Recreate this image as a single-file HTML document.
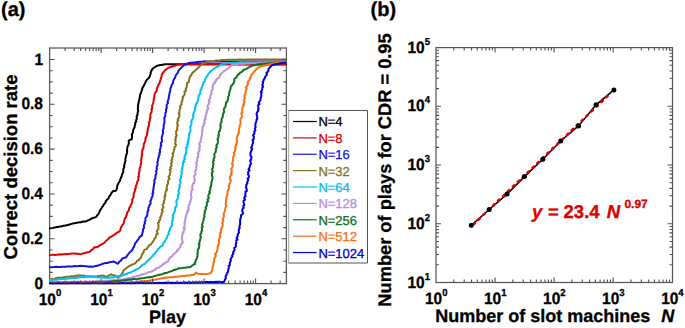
<!DOCTYPE html>
<html><head><meta charset="utf-8"><style>
html,body{margin:0;padding:0;background:#fff;width:685px;height:328px;overflow:hidden;}
svg{display:block;}
</style></head><body>
<svg width="685" height="328" viewBox="0 0 685 328" text-rendering="geometricPrecision">
<rect width="685" height="328" fill="#fff"/>
<rect x="49.6" y="48.0" width="236.79999999999998" height="235.60000000000002" fill="none" stroke="#585858" stroke-width="1.25"/>
<defs><clipPath id="ca"><rect x="49.0" y="48.0" width="237.39999999999998" height="236.50000000000003"/></clipPath></defs>
<g clip-path="url(#ca)" fill="none" stroke-width="2.0" stroke-linejoin="round" stroke-linecap="round">
<path d="M49.30,228.50 L50.55,228.16 L51.97,227.90 L53.24,227.74 L54.38,227.55 L55.68,227.29 L57.00,226.95 L58.43,226.93 L59.63,226.51 L61.11,226.49 L62.40,226.08 L63.85,225.74 L65.11,225.58 L66.17,225.28 L67.54,225.16 L68.81,224.74 L70.29,224.33 L71.58,223.89 L72.71,223.59 L74.25,223.32 L75.44,223.03 L76.85,222.72 L78.32,222.61 L79.50,222.35 L80.96,222.21 L82.39,221.81 L83.84,221.54 L85.01,221.50 L86.24,221.20 L87.56,220.56 L89.27,219.83 L90.70,219.03 L91.98,218.43 L93.47,217.78 L95.11,217.35 L96.48,216.68 L96.99,215.48 L98.13,214.39 L99.00,212.85 L99.49,211.81 L100.03,210.50 L100.89,209.12 L101.51,208.27 L102.24,206.88 L103.09,206.02 L103.58,204.68 L104.57,203.73 L105.43,202.57 L105.77,201.21 L106.52,200.26 L108.69,198.14 L108.96,196.96 L109.76,195.86 L110.76,194.54 L111.15,193.40 L112.15,192.25 L113.11,191.05 L114.35,191.03 L115.83,190.77 L116.46,189.77 L116.92,188.40 L117.05,186.82 L117.34,185.56 L118.04,183.92 L118.86,182.59 L119.67,181.16 L120.14,179.82 L120.61,178.67 L120.96,177.68 L121.78,176.05 L121.92,174.89 L122.40,173.52 L123.15,172.71 L123.27,171.19 L123.22,169.66 L123.67,168.42 L124.29,167.04 L123.91,166.13 L124.55,164.37 L124.81,162.98 L125.04,162.17 L125.55,160.69 L125.32,159.18 L125.50,158.07 L126.03,156.75 L126.10,155.15 L126.71,154.26 L126.97,152.87 L127.18,151.53 L126.95,150.11 L127.29,148.54 L127.27,147.38 L127.68,146.30 L128.46,144.87 L128.67,143.86 L128.92,142.23 L128.66,140.89 L130.00,139.99 L131.60,139.42 L132.00,137.59 L132.07,136.17 L131.84,134.49 L132.69,132.94 L133.05,131.41 L133.12,130.20 L133.71,128.83 L134.65,127.25 L134.63,126.07 L135.27,124.21 L135.22,122.74 L136.20,121.62 L136.03,120.18 L136.92,118.75 L136.68,117.36 L136.76,115.74 L137.67,114.75 L137.57,113.57 L137.75,112.21 L138.18,110.46 L137.82,109.14 L137.93,107.93 L138.06,106.47 L138.07,105.38 L138.36,103.75 L138.66,102.61 L138.88,101.21 L139.29,99.59 L139.65,97.90 L139.93,96.58 L139.94,95.49 L140.41,93.90 L141.16,92.53 L141.38,91.21 L142.04,90.04 L142.22,88.63 L142.82,87.19 L143.68,86.00 L144.17,84.87 L145.02,83.47 L145.45,82.25 L146.01,81.08 L146.80,79.99 L147.64,79.14 L148.59,78.09 L149.61,76.78 L149.87,75.75 L150.60,73.99 L150.64,72.77 L151.17,71.31 L151.74,70.15 L152.64,68.74 L153.92,67.79 L155.35,66.80 L156.74,65.94 L158.22,65.54 L159.79,65.10 L161.19,64.90 L162.47,64.64 L163.85,64.41 L165.18,64.19 L166.59,64.17 L167.95,64.20 L169.30,64.19 L170.71,64.20 L172.05,64.23 L173.47,64.23 L174.80,64.19 L176.17,64.22 L177.55,64.20 L178.92,64.27 L180.30,64.24 L181.62,64.31 L183.00,64.31 L184.28,64.27 L185.62,64.30 L186.89,64.33 L188.22,64.32 L189.49,64.32 L190.80,64.32 L192.12,64.29 L193.43,64.33 L194.72,64.28 L196.04,64.28 L197.32,64.28 L198.62,64.28 L199.94,64.29 L201.27,64.29 L202.56,64.28 L203.85,64.27 L205.15,64.27 L206.48,64.30 L207.75,64.30 L209.10,64.28 L210.40,64.30 L211.68,64.32 L212.98,64.30 L214.30,64.33 L215.59,64.32 L216.91,64.31 L218.20,64.29 L219.48,64.28 L220.78,64.31 L222.10,64.28 L223.39,64.32 L224.74,64.31 L226.01,64.28 L227.32,64.30 L228.61,64.30 L229.92,64.33 L231.27,64.30 L232.53,64.33 L233.84,64.29 L235.12,64.29 L236.45,64.30 L237.74,64.30 L239.03,64.29 L240.34,64.29 L241.64,64.27 L242.96,64.28 L244.28,64.30 L245.60,64.31 L246.90,64.32 L248.18,64.29 L249.52,64.28 L250.81,64.31 L252.07,64.32 L253.43,64.31 L254.72,64.32 L255.99,64.30 L257.32,64.32 L258.64,64.32 L259.93,64.32 L261.24,64.31 L262.52,64.27 L263.81,64.29 L265.12,64.32 L266.45,64.31 L267.75,64.31 L269.05,64.27 L270.37,64.32 L271.66,64.30 L272.97,64.27 L274.28,64.28 L275.54,64.29 L276.89,64.28 L278.19,64.33 L279.48,64.29 L280.78,64.31 L282.10,64.31 L283.40,64.27 L284.67,64.28 L286.00,64.30" stroke="#000000"/>
<path d="M49.30,255.20 L50.76,255.05 L52.09,254.87 L53.31,254.85 L54.89,254.89 L56.28,254.67 L57.61,254.64 L58.98,254.44 L60.50,254.37 L61.92,254.50 L62.99,254.26 L64.63,254.33 L65.90,254.02 L67.21,254.14 L68.67,253.92 L70.10,253.81 L71.83,253.59 L73.24,253.60 L74.74,253.56 L76.11,253.80 L77.80,253.70 L79.23,254.02 L80.98,254.13 L82.37,253.64 L83.98,253.33 L85.40,252.79 L87.53,252.22 L89.46,252.10 L90.54,250.98 L91.32,250.11 L92.80,249.28 L93.52,248.29 L94.61,247.24 L96.38,247.07 L98.28,246.69 L99.36,245.66 L100.61,244.88 L101.63,244.48 L103.02,243.68 L103.98,242.99 L105.19,241.90 L106.08,240.75 L107.10,240.02 L108.14,239.19 L108.88,238.00 L110.47,237.21 L111.43,236.48 L112.56,235.83 L114.17,234.79 L115.09,234.09 L116.13,233.41 L117.01,232.59 L118.13,232.20 L119.40,231.15 L120.33,230.34 L120.60,228.64 L121.02,227.38 L121.75,226.14 L122.29,225.00 L123.16,224.12 L123.80,222.53 L124.03,221.27 L124.50,219.84 L124.75,218.48 L125.98,217.08 L126.10,216.04 L126.89,214.48 L126.92,213.18 L127.52,211.97 L128.57,210.86 L129.12,209.07 L129.09,208.12 L130.37,206.65 L130.75,205.06 L131.21,204.25 L131.93,202.88 L132.41,201.18 L132.03,199.79 L132.74,198.78 L133.45,197.47 L133.56,196.16 L133.75,194.70 L133.75,193.50 L134.28,192.25 L135.00,190.55 L134.94,189.19 L135.75,188.12 L135.68,186.41 L136.41,185.38 L136.67,183.84 L137.23,182.38 L137.36,181.31 L138.31,180.09 L138.48,178.64 L138.13,177.16 L139.01,176.10 L138.66,174.34 L139.07,173.40 L139.23,171.80 L139.68,170.87 L139.52,168.98 L139.86,167.88 L140.40,166.40 L140.73,165.39 L140.70,163.71 L141.32,162.47 L141.38,161.12 L141.03,160.14 L141.29,158.96 L141.66,157.17 L141.61,156.00 L142.20,155.03 L141.92,153.38 L142.18,152.43 L142.30,150.55 L142.42,149.45 L143.38,148.46 L143.42,147.22 L143.74,145.50 L143.75,144.31 L144.80,142.27 L145.34,140.93 L145.40,139.58 L145.54,138.06 L145.94,136.94 L146.84,135.48 L147.16,134.21 L146.94,133.26 L147.66,131.70 L147.30,130.41 L147.89,129.36 L147.97,127.72 L148.84,126.21 L148.65,125.39 L149.21,123.62 L148.80,122.33 L149.83,121.15 L149.92,120.25 L149.80,118.53 L150.59,117.41 L150.21,116.13 L150.50,114.53 L150.47,113.49 L151.52,112.08 L151.79,110.37 L151.40,109.32 L152.28,108.28 L152.02,106.51 L152.30,105.33 L152.97,103.81 L153.20,102.74 L153.56,101.36 L153.72,99.70 L153.82,98.32 L154.56,96.75 L154.40,95.75 L154.80,93.95 L155.13,92.91 L155.86,91.83 L156.81,90.52 L156.81,88.68 L157.18,87.60 L158.17,86.25 L158.29,84.91 L159.10,83.74 L159.70,82.52 L160.14,80.78 L160.76,79.40 L161.02,77.97 L161.64,76.38 L161.71,74.93 L162.16,73.79 L163.28,72.49 L163.98,71.80 L164.88,70.39 L165.74,69.52 L167.27,68.51 L168.70,67.63 L170.04,67.24 L171.25,66.78 L172.56,66.37 L174.00,65.96 L175.35,65.49 L176.69,65.05 L177.98,64.62 L179.44,64.49 L180.81,64.45 L182.18,64.35 L183.57,64.26 L184.98,64.21 L186.32,64.18 L187.59,64.20 L188.95,64.19 L190.23,64.19 L191.58,64.22 L192.84,64.20 L194.17,64.23 L195.50,64.20 L196.78,64.25 L198.11,64.22 L199.42,64.27 L200.73,64.25 L202.04,64.24 L203.39,64.29 L204.67,64.24 L206.00,64.24 L207.26,64.29 L208.61,64.29 L209.92,64.30 L211.23,64.25 L212.51,64.29 L213.87,64.31 L215.14,64.30 L216.47,64.29 L217.77,64.28 L219.11,64.33 L220.39,64.30 L221.75,64.34 L223.02,64.29 L224.38,64.35 L225.66,64.29 L227.00,64.32 L228.31,64.34 L229.62,64.31 L230.93,64.32 L232.21,64.36 L233.56,64.32 L234.82,64.34 L236.16,64.34 L237.44,64.34 L238.80,64.39 L240.06,64.37 L241.42,64.34 L242.74,64.34 L244.03,64.38 L245.35,64.37 L246.64,64.39 L247.96,64.40 L249.27,64.39 L250.55,64.40 L251.90,64.38 L253.23,64.42 L254.52,64.38 L255.83,64.38 L257.12,64.41 L258.43,64.41 L259.77,64.39 L261.09,64.40 L262.41,64.45 L263.70,64.40 L265.01,64.43 L266.36,64.42 L267.66,64.48 L268.96,64.47 L270.24,64.49 L271.57,64.49 L272.91,64.44 L274.22,64.50 L275.48,64.46 L276.84,64.45 L278.16,64.46 L279.46,64.46 L280.75,64.51 L282.04,64.47 L283.38,64.48 L284.66,64.47 L286.00,64.50" stroke="#e00000"/>
<path d="M49.30,267.10 L50.61,267.21 L52.21,267.15 L53.46,267.08 L54.87,266.96 L56.47,266.87 L57.98,266.89 L59.30,266.96 L60.56,266.96 L62.04,266.72 L63.40,266.63 L64.77,266.69 L65.85,266.71 L67.18,266.47 L68.58,266.38 L69.91,266.41 L71.15,266.60 L72.43,266.46 L73.68,266.15 L74.93,266.11 L76.49,266.13 L77.80,266.20 L79.02,265.89 L80.56,265.73 L81.79,265.97 L83.30,266.10 L84.82,266.30 L86.43,266.30 L87.90,266.49 L89.17,266.75 L90.66,266.58 L92.02,266.85 L93.82,266.61 L95.06,266.11 L96.33,265.96 L98.03,265.53 L99.65,264.91 L101.38,264.37 L102.59,263.75 L104.08,263.38 L105.79,263.04 L107.19,263.01 L108.62,262.57 L110.51,262.06 L111.61,261.89 L113.20,261.56 L114.88,262.02 L116.09,262.74 L117.37,263.71 L118.82,262.70 L119.18,261.85 L120.64,260.72 L121.55,259.79 L122.14,258.72 L123.38,258.09 L124.67,257.82 L126.15,257.30 L127.07,255.73 L127.84,254.60 L128.91,253.41 L129.77,252.28 L131.50,250.85 L132.74,249.49 L132.73,248.35 L133.70,247.52 L134.24,245.85 L134.90,244.57 L134.89,243.64 L135.97,242.44 L136.76,241.54 L137.38,240.40 L138.32,239.34 L138.88,238.20 L139.75,236.90 L140.86,236.11 L141.98,235.39 L142.29,233.40 L142.51,232.65 L142.99,230.73 L142.93,229.28 L143.85,228.39 L144.11,227.16 L143.74,225.76 L144.29,224.62 L145.00,223.37 L144.51,222.05 L145.58,220.79 L145.29,218.93 L145.74,217.45 L146.87,216.58 L147.13,215.22 L147.49,213.46 L147.35,211.93 L148.35,210.60 L148.29,209.35 L148.37,207.84 L148.99,206.74 L149.45,205.20 L150.38,204.04 L150.64,202.84 L150.24,201.42 L150.99,200.38 L151.28,199.06 L151.83,197.45 L152.50,196.09 L152.83,194.86 L152.39,193.59 L153.37,192.72 L152.79,190.95 L153.49,189.74 L153.38,188.11 L153.74,186.92 L153.85,185.58 L154.08,183.64 L154.70,182.42 L154.31,181.10 L154.50,179.83 L155.35,178.45 L155.50,176.77 L155.50,175.43 L156.22,173.83 L156.44,172.42 L155.98,171.21 L156.91,170.00 L156.59,168.87 L156.66,167.17 L157.17,165.98 L157.61,164.50 L157.42,162.88 L157.44,161.84 L158.16,160.36 L158.00,158.79 L158.90,157.52 L158.59,156.07 L159.64,154.56 L159.28,153.23 L160.11,152.24 L159.76,150.42 L160.06,149.20 L160.55,147.75 L160.56,146.43 L161.42,145.47 L160.74,144.30 L160.95,142.55 L162.05,141.50 L162.01,139.91 L161.67,138.71 L161.79,137.07 L162.28,135.61 L162.49,134.81 L162.96,133.27 L163.05,131.92 L162.69,130.69 L163.12,129.46 L163.80,127.91 L163.60,126.82 L163.60,125.11 L164.07,124.25 L164.28,122.80 L164.51,121.46 L164.44,119.97 L164.35,118.76 L164.37,117.29 L165.30,116.17 L165.38,114.53 L165.41,113.34 L165.85,111.99 L166.14,111.02 L165.89,109.51 L166.74,108.04 L166.73,107.17 L166.56,105.59 L166.95,104.47 L167.98,103.01 L167.43,101.77 L168.13,100.59 L168.37,99.26 L168.95,97.89 L168.81,96.90 L168.96,95.35 L169.47,94.03 L169.55,92.80 L170.11,90.80 L170.37,89.66 L170.46,88.29 L171.19,87.11 L171.47,85.45 L171.88,84.45 L173.05,83.02 L172.94,81.89 L173.62,80.22 L173.91,79.28 L175.05,77.89 L175.27,76.54 L175.81,75.50 L176.66,74.02 L177.78,72.85 L178.23,71.26 L179.04,69.90 L180.26,68.85 L181.46,67.60 L182.58,66.37 L183.79,65.46 L184.93,64.62 L186.34,64.00 L187.71,63.46 L189.09,62.91 L190.43,62.76 L191.77,62.67 L193.00,62.54 L194.40,62.41 L195.64,62.29 L197.00,62.09 L198.25,62.04 L199.69,61.83 L201.01,61.67 L202.40,61.57 L203.79,61.37 L205.14,61.43 L206.38,61.44 L207.72,61.43 L209.03,61.44 L210.35,61.44 L211.60,61.43 L212.94,61.44 L214.23,61.46 L215.55,61.41 L216.83,61.40 L218.15,61.40 L219.45,61.41 L220.76,61.44 L222.07,61.47 L223.33,61.47 L224.67,61.46 L225.99,61.48 L227.28,61.45 L228.63,61.43 L229.91,61.47 L231.16,61.48 L232.52,61.50 L233.80,61.51 L235.12,61.47 L236.45,61.44 L237.74,61.49 L239.02,61.51 L240.32,61.49 L241.64,61.51 L242.92,61.49 L244.24,61.50 L245.58,61.49 L246.88,61.50 L248.16,61.49 L249.47,61.55 L250.78,61.54 L252.06,61.50 L253.37,61.53 L254.70,61.55 L255.95,61.54 L257.33,61.53 L258.56,61.52 L259.87,61.51 L261.24,61.55 L262.53,61.57 L263.85,61.55 L265.13,61.56 L266.44,61.56 L267.75,61.53 L269.05,61.56 L270.36,61.53 L271.62,61.53 L272.97,61.60 L274.27,61.56 L275.59,61.60 L276.87,61.56 L278.16,61.57 L279.46,61.58 L280.79,61.62 L282.05,61.60 L283.35,61.56 L284.72,61.60 L286.00,61.60" stroke="#1414e0"/>
<path d="M49.30,279.30 L50.98,279.06 L51.86,278.81 L53.63,278.90 L55.29,278.44 L56.37,278.02 L57.94,277.87 L59.06,277.55 L60.41,277.70 L61.78,277.69 L63.06,277.48 L64.38,276.88 L66.03,276.84 L67.34,276.66 L68.24,276.81 L69.92,276.70 L71.23,276.14 L72.47,276.31 L73.73,276.27 L74.96,276.14 L76.57,275.50 L77.52,275.68 L79.33,275.23 L80.38,275.42 L81.69,275.72 L83.29,275.50 L84.62,276.00 L86.06,276.28 L87.34,276.54 L88.80,276.47 L90.29,276.36 L91.55,276.53 L93.17,276.53 L94.36,276.31 L95.43,276.66 L97.22,276.36 L98.40,276.02 L100.19,275.92 L101.36,275.42 L102.65,275.54 L104.17,275.98 L105.91,276.68 L107.70,276.84 L108.08,275.86 L109.66,275.13 L111.14,274.34 L112.31,274.91 L114.69,275.56 L115.63,275.91 L117.06,277.05 L118.07,277.89 L119.06,276.45 L120.56,276.16 L120.86,274.92 L122.45,273.27 L122.79,272.45 L123.34,270.85 L123.86,270.09 L125.53,268.94 L126.00,268.28 L127.82,266.93 L128.76,266.46 L130.29,265.67 L131.24,265.18 L132.29,264.38 L133.56,264.17 L134.96,263.55 L136.10,262.41 L136.93,260.94 L138.92,260.10 L139.09,259.20 L140.96,257.69 L141.34,256.49 L141.86,254.83 L141.86,254.34 L143.53,252.52 L143.77,250.95 L144.54,249.75 L145.88,249.35 L146.97,248.85 L147.63,247.52 L148.50,246.44 L149.30,245.13 L150.76,244.60 L151.55,243.52 L152.96,241.64 L153.51,240.77 L153.82,240.12 L154.55,238.48 L155.60,237.55 L156.20,235.76 L156.47,234.27 L157.79,233.80 L156.89,231.40 L157.14,230.30 L158.30,229.45 L158.40,227.15 L158.52,226.40 L158.52,225.26 L157.84,222.98 L159.08,222.37 L159.08,220.35 L160.32,219.64 L160.12,217.86 L160.78,216.29 L161.53,214.96 L161.61,213.53 L162.46,211.98 L162.72,210.74 L161.91,210.07 L162.39,208.66 L163.54,207.19 L162.67,205.31 L162.80,204.38 L164.11,202.65 L163.73,200.94 L164.60,199.70 L164.68,198.00 L164.46,196.54 L165.50,195.65 L165.06,194.59 L165.58,192.76 L165.77,191.25 L167.09,189.93 L166.38,188.79 L166.85,187.90 L166.82,186.68 L166.99,185.29 L168.13,183.31 L168.11,182.09 L168.05,180.70 L168.43,180.12 L169.58,178.68 L168.49,176.66 L169.88,175.05 L169.86,173.92 L170.45,172.26 L170.42,171.21 L169.68,169.50 L170.94,168.71 L170.27,167.30 L171.57,165.76 L171.34,164.36 L171.03,163.68 L172.02,161.75 L171.30,160.30 L172.29,159.38 L172.01,157.74 L172.71,156.91 L173.22,155.44 L172.53,153.58 L173.52,152.59 L173.72,150.89 L174.01,149.85 L174.52,149.06 L174.54,147.00 L175.56,146.15 L176.07,144.65 L175.13,143.88 L175.52,141.80 L175.63,140.89 L175.18,139.44 L175.97,138.07 L175.58,136.91 L176.76,135.70 L176.10,134.16 L176.31,132.84 L175.95,131.58 L177.47,129.87 L177.02,128.59 L177.25,126.75 L178.09,125.64 L177.13,124.19 L177.43,123.60 L177.31,121.55 L178.49,120.33 L177.69,119.42 L178.71,118.02 L179.13,116.16 L179.61,115.34 L178.65,113.31 L179.54,112.25 L179.47,110.43 L179.89,109.01 L180.40,108.30 L180.01,106.57 L181.20,104.82 L181.66,104.21 L181.42,102.35 L182.40,101.10 L182.14,100.14 L183.03,98.20 L182.66,96.85 L183.42,96.11 L184.40,94.72 L184.91,93.32 L184.42,91.68 L186.10,90.74 L185.66,88.93 L186.57,87.49 L186.82,85.84 L187.07,84.88 L186.89,83.15 L188.58,82.39 L188.92,80.88 L189.14,79.74 L189.55,77.61 L190.00,76.68 L190.79,75.57 L191.37,75.00 L192.20,73.31 L192.82,72.35 L194.35,71.32 L194.81,70.67 L196.01,69.66 L197.31,68.72 L198.24,67.79 L199.23,66.81 L200.05,65.88 L201.02,65.01 L201.96,64.06 L203.27,63.58 L204.77,63.07 L206.06,62.55 L207.35,62.03 L208.71,61.79 L210.05,61.57 L211.31,61.32 L212.61,61.14 L213.95,60.94 L215.21,60.69 L216.65,60.47 L217.91,60.41 L219.17,60.39 L220.47,60.28 L221.75,60.10 L223.15,60.06 L224.34,59.97 L225.69,59.93 L226.95,59.84 L228.36,59.87 L229.56,59.80 L230.88,59.81 L232.21,59.80 L233.54,59.74 L234.83,59.74 L236.13,59.68 L237.43,59.68 L238.75,59.58 L240.04,59.54 L241.34,59.61 L242.63,59.65 L243.95,59.58 L245.29,59.63 L246.58,59.57 L247.88,59.58 L249.23,59.56 L250.50,59.58 L251.82,59.55 L253.18,59.61 L254.46,59.56 L255.74,59.54 L257.05,59.57 L258.41,59.51 L259.76,59.54 L261.07,59.59 L262.40,59.52 L263.65,59.60 L264.92,59.49 L266.29,59.54 L267.65,59.57 L268.92,59.59 L270.23,59.54 L271.56,59.52 L272.84,59.54 L274.15,59.58 L275.51,59.53 L276.75,59.51 L278.10,59.52 L279.44,59.56 L280.80,59.51 L282.05,59.52 L283.43,59.49 L284.69,59.54 L286.00,59.50" stroke="#86701c"/>
<path d="M49.30,280.10 L50.56,279.92 L52.38,280.05 L53.58,279.62 L55.19,279.79 L56.58,279.83 L58.04,279.46 L59.11,279.30 L60.71,279.30 L61.84,279.02 L63.37,279.08 L64.52,279.13 L65.97,278.55 L67.15,278.77 L68.40,278.59 L69.54,278.27 L71.28,278.27 L72.49,277.96 L73.85,277.99 L75.18,277.89 L76.77,277.92 L78.24,277.51 L79.46,277.25 L81.23,277.09 L82.34,276.98 L84.01,277.15 L85.53,277.04 L86.74,276.58 L88.56,276.62 L90.01,276.53 L91.18,276.64 L92.59,277.09 L94.29,276.98 L95.68,277.15 L96.99,277.36 L98.68,277.39 L100.10,277.25 L101.47,276.98 L103.27,277.52 L104.40,277.69 L106.11,277.56 L107.45,278.02 L108.85,277.86 L110.17,277.45 L111.86,277.22 L113.09,277.40 L114.67,277.05 L116.00,276.43 L117.54,276.14 L119.37,275.90 L120.73,275.56 L122.32,275.43 L123.55,274.78 L124.66,274.75 L126.14,273.94 L127.34,273.49 L128.69,272.87 L130.30,272.58 L131.22,272.33 L132.38,271.35 L134.21,270.56 L135.10,270.31 L136.62,269.18 L137.46,268.84 L138.69,268.31 L139.76,267.40 L141.24,266.02 L142.41,265.05 L143.85,264.24 L145.23,263.56 L145.97,262.42 L147.30,261.29 L148.66,260.13 L149.41,259.33 L150.28,258.40 L151.49,257.22 L152.58,255.92 L153.32,254.72 L154.02,254.25 L155.07,253.07 L155.77,251.96 L156.94,250.88 L157.79,249.52 L158.71,248.60 L159.44,247.89 L160.52,246.59 L162.06,245.80 L162.95,244.80 L163.12,243.30 L163.86,242.55 L165.19,241.06 L165.50,240.10 L166.43,238.54 L167.20,237.41 L167.55,236.06 L167.55,235.45 L168.82,234.00 L168.56,232.16 L169.25,231.02 L169.95,229.89 L169.98,228.36 L171.13,226.76 L171.76,225.64 L171.99,223.87 L171.87,222.97 L172.01,221.04 L172.91,220.45 L172.45,218.48 L173.45,217.70 L172.64,216.06 L173.00,215.26 L173.50,213.97 L174.55,211.83 L174.85,210.70 L175.28,209.69 L175.05,207.63 L176.29,206.53 L176.53,205.47 L176.54,204.29 L176.66,202.64 L176.17,201.55 L176.93,200.08 L177.85,198.41 L177.90,197.03 L178.08,196.42 L177.76,194.88 L178.96,193.65 L178.67,191.99 L178.29,190.78 L179.02,189.33 L179.14,187.95 L179.87,187.08 L179.41,185.29 L179.97,184.10 L180.73,182.63 L180.04,181.75 L180.02,180.06 L180.50,178.97 L181.01,177.59 L180.73,176.18 L181.53,174.66 L181.98,173.68 L181.33,171.85 L181.89,170.45 L181.71,169.20 L182.12,168.26 L182.68,166.39 L182.74,165.40 L183.02,163.80 L182.94,162.36 L184.44,161.73 L183.56,160.40 L185.02,158.96 L184.19,157.59 L184.91,156.02 L185.36,154.55 L186.14,153.69 L186.04,152.52 L186.36,150.44 L186.11,148.90 L186.10,148.04 L187.46,146.16 L186.88,145.03 L188.00,143.97 L187.35,142.52 L188.47,141.16 L188.05,139.32 L188.96,138.12 L188.59,137.01 L188.84,135.95 L188.91,133.90 L189.59,133.12 L190.21,131.75 L190.61,130.52 L190.35,128.67 L190.19,127.04 L191.04,125.40 L191.46,124.03 L191.43,123.33 L191.25,121.21 L191.99,120.08 L192.65,118.63 L193.09,118.14 L193.30,116.48 L192.93,115.42 L193.52,113.93 L193.72,112.45 L194.55,111.29 L195.27,109.20 L194.92,107.95 L195.68,106.37 L195.62,104.71 L196.18,103.63 L197.39,102.61 L197.66,101.25 L198.18,99.52 L198.37,97.62 L198.73,96.76 L198.79,95.39 L200.09,93.98 L200.24,92.50 L200.40,91.66 L200.53,89.73 L201.77,88.70 L201.50,87.64 L202.29,86.32 L202.80,85.03 L203.43,83.66 L203.36,82.24 L204.96,81.16 L204.80,80.03 L205.68,78.03 L206.71,76.78 L207.39,75.64 L208.04,74.53 L208.85,73.37 L210.25,71.93 L210.99,70.80 L211.95,70.24 L213.16,69.29 L214.35,68.44 L215.55,67.79 L216.52,67.05 L217.95,66.22 L219.44,65.56 L220.78,64.77 L222.14,64.04 L223.44,63.86 L224.78,63.66 L226.18,63.40 L227.63,63.19 L229.03,63.11 L230.40,63.01 L231.78,62.94 L233.07,62.83 L234.47,62.73 L235.89,62.64 L237.20,62.49 L238.65,62.45 L240.02,62.25 L241.33,62.25 L242.63,62.31 L243.90,62.31 L245.28,62.23 L246.54,62.24 L247.92,62.24 L249.16,62.17 L250.47,62.24 L251.79,62.20 L253.12,62.21 L254.44,62.14 L255.81,62.17 L257.11,62.18 L258.45,62.09 L259.70,62.09 L261.03,62.16 L262.38,62.06 L263.62,62.13 L264.99,62.07 L266.28,62.04 L267.64,62.05 L268.95,62.06 L270.18,62.02 L271.51,62.07 L272.87,61.97 L274.14,61.99 L275.48,62.00 L276.79,61.96 L278.06,61.98 L279.41,61.91 L280.74,62.00 L282.01,61.90 L283.39,61.90 L284.66,61.91 L286.00,61.90" stroke="#00c0f2"/>
<path d="M49.30,282.20 L50.50,282.22 L51.97,282.41 L53.54,281.90 L54.64,282.28 L56.13,282.26 L57.33,282.17 L58.51,281.96 L60.07,282.26 L61.47,282.14 L62.45,282.17 L64.01,282.02 L65.28,281.91 L66.56,281.93 L67.62,281.87 L69.09,282.20 L70.50,281.85 L71.70,281.77 L73.08,281.70 L74.22,282.07 L75.79,281.83 L77.18,281.73 L78.29,281.59 L79.68,281.70 L81.24,281.82 L82.68,281.69 L84.00,281.80 L84.87,281.57 L86.46,281.98 L87.67,281.85 L89.03,281.88 L90.16,281.66 L91.94,281.53 L92.92,281.38 L94.19,281.49 L95.83,281.44 L96.97,281.32 L98.43,281.60 L99.79,281.11 L101.17,281.45 L102.42,280.83 L103.88,281.19 L104.92,280.66 L106.16,280.79 L107.92,280.74 L109.28,280.39 L110.24,280.59 L111.77,280.29 L113.13,280.15 L114.07,280.09 L115.39,280.11 L116.91,279.92 L118.40,279.68 L119.65,279.44 L121.27,279.65 L122.64,279.25 L123.74,279.53 L124.86,279.02 L126.02,278.70 L127.82,278.30 L129.16,278.17 L130.23,277.93 L131.54,277.62 L132.88,277.03 L134.30,276.63 L135.57,276.61 L136.93,275.94 L138.22,276.04 L139.26,275.21 L140.62,275.31 L141.67,274.24 L143.33,274.28 L144.95,273.67 L146.51,273.16 L147.69,272.65 L148.46,272.27 L149.86,272.11 L151.66,271.44 L153.19,270.90 L153.51,270.06 L155.26,269.98 L155.80,268.57 L157.57,268.05 L158.92,267.57 L159.70,266.76 L161.03,266.17 L161.55,265.76 L162.35,264.83 L163.35,263.97 L164.76,263.37 L165.43,262.33 L166.86,261.84 L168.56,260.82 L168.57,259.40 L169.54,258.51 L170.41,257.22 L171.99,256.57 L172.33,255.83 L173.16,254.36 L174.02,253.71 L175.81,252.26 L176.60,251.84 L176.97,250.48 L178.15,250.07 L178.62,248.99 L179.82,247.57 L180.37,246.83 L180.43,245.65 L181.22,244.37 L182.63,242.52 L182.81,242.08 L182.01,239.51 L181.86,239.23 L181.87,237.75 L182.29,236.13 L182.37,234.04 L183.56,232.53 L183.15,232.11 L183.96,230.64 L184.65,228.36 L183.69,227.92 L184.71,225.75 L184.67,224.66 L184.81,223.21 L184.39,222.92 L185.15,221.48 L185.09,219.73 L185.38,218.35 L185.71,217.34 L185.93,216.10 L186.77,214.07 L186.79,213.20 L187.94,211.74 L187.31,211.06 L188.79,209.45 L188.30,207.50 L188.74,206.03 L188.85,205.16 L189.84,203.87 L189.94,201.84 L190.68,201.22 L190.62,199.72 L191.05,198.85 L191.54,197.16 L190.91,195.30 L191.12,194.70 L191.25,192.62 L191.47,190.96 L192.60,189.44 L192.32,189.05 L192.09,187.27 L192.63,185.42 L192.68,183.85 L194.07,183.18 L194.52,180.92 L194.53,179.79 L194.66,178.66 L194.31,177.76 L193.98,176.09 L195.64,174.41 L195.41,173.58 L195.01,171.75 L196.08,170.06 L196.24,168.67 L196.13,167.53 L196.60,165.79 L196.72,164.76 L196.23,163.55 L196.50,162.61 L197.05,161.10 L197.34,159.52 L197.03,157.84 L198.42,157.00 L197.94,155.71 L198.63,154.08 L197.75,153.47 L198.48,151.88 L199.35,150.78 L199.66,148.41 L199.10,147.94 L200.08,145.73 L199.22,144.49 L199.39,143.22 L200.80,142.02 L200.48,140.18 L200.65,139.87 L201.41,137.89 L201.31,136.94 L202.04,134.85 L202.17,133.75 L202.17,132.25 L202.19,131.02 L202.51,129.26 L202.51,128.51 L202.58,126.68 L203.96,125.40 L203.61,123.98 L204.75,122.42 L204.72,121.91 L204.31,120.06 L205.58,118.92 L205.19,116.91 L205.61,115.92 L206.35,114.48 L206.15,113.53 L207.10,111.83 L206.71,110.81 L207.89,109.10 L208.26,108.41 L207.59,107.08 L207.82,105.13 L208.81,104.20 L208.74,103.05 L209.65,102.07 L208.54,100.60 L209.58,99.15 L210.52,97.78 L210.27,97.00 L210.55,95.24 L211.01,94.30 L211.60,92.89 L211.51,90.80 L212.27,90.06 L212.91,88.89 L212.42,86.90 L212.86,86.14 L213.39,83.96 L214.84,83.06 L214.66,82.05 L216.28,80.73 L216.16,79.81 L217.40,78.58 L219.06,77.67 L219.82,75.92 L220.07,75.14 L220.61,74.44 L222.13,72.62 L223.38,71.45 L225.18,70.55 L226.10,69.65 L227.28,68.79 L228.81,68.07 L229.81,67.00 L230.61,66.00 L232.51,64.48 L233.89,64.33 L235.31,64.15 L236.74,63.96 L238.10,63.94 L239.32,63.84 L240.73,63.79 L242.08,63.71 L243.37,63.71 L244.72,63.63 L246.14,63.55 L247.43,63.53 L248.77,63.45 L250.05,63.32 L251.48,63.20 L252.85,63.14 L254.14,63.14 L255.51,63.18 L256.82,63.15 L258.14,63.16 L259.41,63.08 L260.81,63.06 L262.15,63.05 L263.37,63.02 L264.79,63.12 L266.07,63.06 L267.38,63.08 L268.76,62.96 L270.00,63.02 L271.33,63.02 L272.69,62.92 L274.06,62.92 L275.38,62.88 L276.76,62.89 L278.08,62.85 L279.40,62.94 L280.67,62.80 L282.00,62.87 L283.31,62.84 L284.62,62.81 L286.00,62.80" stroke="#bb8ee0"/>
<path d="M49.30,282.70 L50.70,282.66 L51.98,282.51 L53.34,282.50 L54.68,282.86 L55.99,282.65 L57.01,282.56 L58.51,282.61 L59.89,282.42 L60.99,282.74 L62.34,282.59 L63.42,282.41 L64.80,282.71 L66.35,282.42 L67.68,282.32 L68.84,282.71 L70.03,282.68 L71.47,282.29 L72.63,282.45 L73.89,282.56 L75.16,282.57 L76.51,282.25 L77.93,282.25 L79.22,282.53 L80.54,282.38 L81.60,282.39 L82.93,282.43 L84.24,282.39 L85.64,282.29 L87.07,282.19 L88.16,282.50 L89.53,282.45 L91.06,282.28 L92.05,282.10 L93.66,282.10 L94.80,282.27 L95.94,282.22 L97.26,282.24 L98.70,282.16 L99.85,282.16 L101.19,281.94 L102.54,282.20 L104.00,282.12 L105.10,282.06 L106.66,281.90 L108.03,281.77 L109.20,281.71 L110.50,281.40 L111.77,281.37 L113.34,281.24 L114.86,281.06 L116.04,281.04 L117.38,281.20 L118.77,280.79 L119.86,280.95 L121.59,280.51 L122.72,280.67 L124.15,280.33 L125.48,280.23 L126.86,279.84 L128.20,279.88 L129.24,279.55 L130.48,279.70 L132.04,279.26 L133.19,279.09 L134.44,278.96 L135.84,279.17 L137.52,278.91 L138.57,278.61 L140.06,278.64 L141.37,278.35 L142.40,278.18 L144.08,278.09 L145.00,277.90 L146.46,277.46 L148.12,277.55 L149.36,277.10 L150.75,277.20 L152.13,276.76 L153.42,276.45 L154.60,275.92 L156.09,275.77 L157.45,275.17 L158.85,274.96 L160.18,274.40 L161.53,274.43 L162.41,274.12 L163.71,273.43 L165.20,272.98 L166.55,272.91 L168.01,272.33 L169.13,271.91 L170.74,271.39 L172.17,271.01 L173.13,270.12 L174.62,270.08 L175.73,269.48 L177.41,269.13 L178.23,268.49 L179.54,268.14 L181.27,268.13 L182.46,267.98 L183.61,267.69 L184.92,267.83 L186.36,267.40 L187.38,267.22 L189.01,267.14 L190.34,267.20 L190.98,266.40 L192.01,265.76 L193.23,264.67 L195.17,263.98 L194.67,263.09 L195.57,261.73 L195.71,260.03 L196.83,258.68 L197.28,257.04 L197.50,255.66 L197.54,254.13 L197.29,253.69 L197.89,252.23 L197.85,250.48 L197.87,249.34 L199.12,247.98 L198.70,247.04 L199.62,245.46 L198.75,244.10 L199.47,243.08 L199.59,241.48 L200.18,239.88 L200.24,238.79 L200.97,237.24 L200.45,236.31 L200.24,234.80 L201.30,233.17 L201.20,231.97 L202.01,230.57 L202.03,228.54 L201.67,227.26 L202.75,226.63 L201.92,225.01 L202.74,223.17 L202.74,222.48 L203.32,220.72 L203.72,219.39 L203.68,218.17 L204.50,217.05 L204.52,215.74 L204.20,214.67 L204.87,213.07 L204.65,211.27 L205.37,210.54 L205.99,208.78 L205.48,207.61 L206.77,205.96 L206.92,204.64 L206.71,203.21 L207.03,202.18 L208.23,201.37 L207.56,199.46 L208.88,198.02 L208.33,196.94 L208.31,195.47 L208.95,194.27 L209.97,192.86 L209.23,192.14 L209.82,190.77 L210.33,189.41 L210.17,187.52 L211.02,186.51 L211.02,185.39 L211.54,183.71 L211.29,183.00 L211.77,181.11 L212.19,179.76 L212.47,178.16 L212.62,177.30 L212.01,176.29 L211.96,174.21 L211.75,173.13 L212.82,171.88 L212.40,170.62 L212.04,168.74 L212.88,168.01 L212.94,166.36 L213.22,164.68 L213.47,163.62 L213.00,161.91 L213.92,160.48 L213.42,159.57 L214.18,157.86 L214.67,156.82 L214.28,154.91 L214.50,153.59 L215.38,152.60 L215.91,150.96 L215.87,149.57 L215.95,148.47 L216.89,147.12 L216.30,145.62 L217.35,144.12 L217.80,143.14 L217.85,141.72 L217.97,140.43 L217.54,138.92 L218.56,137.49 L218.24,135.64 L218.93,134.99 L218.74,133.08 L218.94,131.63 L219.83,131.10 L220.29,129.20 L220.46,127.60 L220.94,126.50 L220.15,125.44 L220.63,123.78 L220.83,122.60 L221.77,121.59 L221.40,120.27 L221.79,118.39 L222.77,117.16 L222.72,115.98 L222.92,114.80 L223.25,113.47 L224.36,111.81 L223.70,110.65 L224.03,109.02 L224.88,107.25 L225.49,106.46 L225.77,104.79 L226.01,103.58 L226.08,102.57 L227.44,101.26 L227.82,99.60 L228.26,98.13 L228.06,96.93 L228.44,96.16 L229.18,94.56 L229.13,92.93 L229.62,91.61 L229.77,90.61 L230.59,88.95 L230.61,87.78 L231.05,86.01 L232.14,85.03 L233.27,83.74 L233.91,82.54 L234.32,81.05 L234.23,79.29 L234.91,78.47 L236.62,77.12 L237.16,75.74 L238.06,74.77 L239.84,73.37 L240.08,72.46 L241.43,72.13 L242.91,71.01 L243.37,69.95 L244.73,69.44 L246.13,68.81 L247.55,68.11 L248.80,67.45 L250.06,66.67 L251.48,66.07 L252.76,65.37 L254.07,65.19 L255.51,64.94 L256.89,64.61 L258.19,64.35 L259.54,64.14 L260.80,63.92 L262.16,63.86 L263.53,63.67 L264.94,63.63 L266.25,63.42 L267.65,63.35 L268.90,63.20 L270.32,63.14 L271.61,63.02 L272.88,62.89 L274.27,62.81 L275.48,62.74 L276.80,62.61 L278.14,62.56 L279.48,62.48 L280.76,62.32 L282.10,62.22 L283.38,62.17 L284.71,62.12 L286.00,62.00" stroke="#127020"/>
<path d="M49.30,283.30 L50.50,283.36 L52.00,283.27 L53.08,283.45 L54.58,283.09 L55.73,283.47 L57.04,283.21 L58.59,283.39 L59.83,283.34 L60.89,283.06 L62.60,283.35 L63.51,283.03 L64.90,283.39 L66.20,283.28 L67.81,283.25 L69.12,283.09 L70.10,282.98 L71.67,283.01 L73.07,283.26 L74.04,283.29 L75.34,283.16 L76.63,283.27 L78.27,283.31 L79.20,283.28 L80.75,283.26 L82.03,283.17 L83.38,283.23 L84.47,282.91 L85.98,283.00 L87.22,282.88 L88.68,282.88 L90.03,283.20 L91.18,282.90 L92.57,282.93 L93.78,282.88 L95.33,283.06 L96.37,282.86 L97.84,283.17 L99.20,282.85 L100.30,282.93 L101.78,282.85 L103.02,283.20 L104.40,282.78 L105.42,282.82 L106.99,283.02 L108.23,282.95 L109.49,283.01 L110.90,283.13 L112.24,283.07 L113.63,283.08 L114.86,282.73 L116.15,283.07 L117.35,283.07 L118.55,283.09 L119.97,283.00 L121.20,282.71 L122.58,282.62 L123.78,282.57 L125.55,282.57 L126.85,282.52 L128.13,282.53 L129.42,282.10 L130.49,282.06 L131.71,281.88 L133.46,282.09 L134.52,281.92 L136.06,281.88 L137.40,281.61 L138.39,281.65 L139.82,281.46 L141.17,281.32 L142.79,281.04 L143.91,281.17 L145.24,281.20 L146.50,281.09 L147.97,281.02 L148.96,280.55 L150.41,280.66 L151.59,280.09 L153.34,280.21 L154.36,279.69 L155.99,279.57 L157.36,279.36 L158.41,278.86 L159.61,278.83 L161.06,278.37 L162.84,278.32 L163.95,278.07 L165.28,277.96 L166.45,277.54 L167.66,277.39 L169.14,277.32 L170.34,277.36 L172.11,277.32 L173.07,277.24 L174.35,276.79 L175.74,276.81 L177.27,276.70 L178.62,276.41 L180.05,276.39 L181.33,276.10 L182.65,276.06 L183.99,276.20 L185.23,275.81 L186.21,275.63 L188.00,275.48 L189.20,275.55 L190.53,275.22 L191.59,275.04 L193.53,275.02 L194.68,274.05 L195.83,272.67 L197.03,273.39 L198.44,273.75 L199.93,273.90 L201.15,274.03 L202.53,273.94 L203.99,273.92 L205.16,274.35 L206.50,273.94 L208.10,273.66 L209.10,273.46 L210.46,273.29 L211.37,271.88 L212.24,270.02 L212.61,269.20 L212.42,267.08 L213.04,265.76 L213.43,264.89 L213.32,262.96 L214.17,261.60 L214.13,260.36 L214.26,258.53 L214.87,257.42 L215.91,256.02 L215.05,254.23 L216.20,253.05 L216.80,252.08 L217.24,250.01 L217.79,249.05 L217.36,247.40 L218.45,246.15 L217.69,244.92 L219.06,243.81 L219.07,242.18 L218.97,241.12 L218.91,240.15 L219.36,238.35 L220.43,237.38 L219.61,235.65 L220.49,234.81 L219.90,233.47 L221.09,232.23 L220.66,230.90 L221.40,229.74 L221.04,228.58 L222.35,227.22 L222.47,225.58 L222.79,224.08 L222.15,223.14 L223.30,221.33 L222.64,219.96 L223.19,218.73 L223.12,217.97 L223.89,216.81 L223.91,215.25 L223.64,214.17 L224.19,212.41 L224.82,211.52 L225.01,210.19 L225.41,208.08 L225.93,206.70 L226.37,205.56 L225.56,204.66 L225.91,202.76 L226.16,201.63 L225.96,199.98 L226.37,199.03 L226.38,197.45 L226.95,195.93 L227.58,194.80 L227.26,193.03 L227.49,192.37 L227.77,190.28 L228.51,189.37 L229.24,187.55 L228.62,186.33 L229.33,185.27 L229.34,184.34 L229.92,182.99 L230.56,181.11 L230.80,179.91 L229.78,179.01 L230.04,176.78 L230.49,175.65 L231.61,174.82 L231.05,173.11 L231.83,171.99 L231.75,170.33 L231.21,168.69 L232.14,167.63 L232.53,166.54 L232.94,164.49 L231.93,163.77 L232.82,161.76 L233.22,160.49 L232.84,159.26 L233.45,158.21 L233.08,156.92 L234.05,155.33 L234.34,154.30 L233.68,152.66 L234.81,151.53 L234.99,149.71 L235.70,148.92 L235.05,147.25 L236.30,145.71 L235.88,145.05 L236.82,143.05 L236.91,141.82 L237.11,140.85 L236.71,139.01 L237.13,137.71 L237.20,136.25 L237.98,135.17 L237.83,133.98 L239.23,132.60 L238.67,131.34 L239.02,129.47 L239.31,127.95 L239.80,126.71 L239.62,126.08 L240.39,124.59 L240.46,123.03 L240.78,121.96 L240.33,120.40 L240.70,118.55 L241.63,117.49 L241.91,116.42 L241.81,114.47 L241.29,113.45 L242.48,111.88 L241.85,110.30 L242.24,109.62 L242.26,107.86 L242.85,106.98 L244.06,105.01 L243.14,104.53 L244.52,102.47 L243.98,101.22 L244.26,99.52 L244.77,97.77 L244.38,96.31 L244.71,95.01 L245.53,94.29 L245.22,93.08 L246.04,91.35 L245.90,89.91 L246.64,88.95 L245.94,87.25 L247.14,86.12 L247.57,84.64 L248.07,83.81 L247.64,82.27 L248.43,81.03 L249.81,79.76 L249.83,77.85 L251.01,76.89 L251.12,75.26 L252.41,74.02 L253.29,72.95 L253.72,71.92 L254.83,70.96 L255.82,69.71 L257.00,68.50 L258.22,67.43 L259.55,67.02 L260.82,66.51 L262.23,66.07 L263.49,65.74 L264.92,65.50 L266.25,65.20 L267.61,64.79 L268.87,64.53 L270.18,64.21 L271.54,63.84 L272.95,63.55 L274.37,63.35 L275.64,62.96 L276.95,62.70 L278.50,62.53 L280.03,62.40 L281.54,62.20 L282.94,62.09 L284.50,61.92 L286.00,61.80" stroke="#f87018"/>
<path d="M49.30,283.50 L50.69,283.35 L51.81,283.48 L53.33,283.63 L54.45,283.46 L56.05,283.71 L57.19,283.27 L58.41,283.55 L59.62,283.23 L61.30,283.68 L62.16,283.45 L63.72,283.36 L64.73,283.59 L66.41,283.42 L67.35,283.40 L68.66,283.69 L69.95,283.33 L71.63,283.25 L72.59,283.21 L73.92,283.45 L75.58,283.26 L76.54,283.57 L77.97,283.34 L79.12,283.29 L80.87,283.22 L81.80,283.54 L83.44,283.62 L84.53,283.65 L85.90,283.29 L87.13,283.51 L88.58,283.20 L89.60,283.63 L90.86,283.55 L92.29,283.25 L93.55,283.37 L95.24,283.19 L96.47,283.28 L97.42,283.50 L98.81,283.20 L100.16,283.54 L101.70,283.40 L102.55,283.50 L104.17,283.57 L105.66,283.26 L106.91,283.52 L107.91,283.27 L109.27,283.26 L110.58,283.13 L111.80,283.55 L113.21,283.40 L114.76,283.46 L115.73,283.55 L117.33,283.58 L118.59,283.45 L119.94,283.18 L121.17,283.25 L122.57,283.11 L123.72,283.22 L125.17,283.22 L126.50,283.47 L127.84,283.08 L129.18,283.38 L130.36,283.32 L131.33,283.42 L132.92,283.18 L134.12,283.34 L135.68,283.37 L136.69,283.07 L138.02,282.93 L139.38,282.87 L140.95,282.96 L141.87,282.86 L143.55,282.92 L144.72,283.01 L146.22,283.29 L147.27,283.10 L148.90,283.00 L150.22,283.12 L151.21,283.18 L152.67,282.76 L153.99,283.13 L155.27,282.93 L156.53,283.12 L157.98,282.75 L159.14,282.82 L160.77,282.98 L161.64,283.08 L162.91,282.89 L164.44,282.94 L165.75,282.59 L167.12,282.97 L168.58,282.70 L169.59,282.89 L171.22,282.60 L172.58,282.99 L173.65,282.65 L175.11,282.93 L176.15,282.58 L177.54,282.79 L178.78,282.68 L180.26,282.73 L181.39,282.86 L183.17,282.64 L184.37,282.42 L185.75,282.60 L186.98,282.75 L188.08,282.77 L189.32,282.27 L190.79,282.72 L192.32,282.74 L193.43,282.71 L194.77,282.27 L196.12,282.61 L197.33,282.49 L198.55,282.30 L199.95,282.41 L201.45,282.11 L202.64,282.18 L204.53,282.34 L205.71,282.00 L207.34,281.89 L208.85,282.21 L209.97,282.04 L211.58,282.12 L212.91,282.09 L214.01,282.15 L215.69,281.72 L217.04,281.92 L217.91,281.71 L219.63,282.03 L220.61,281.90 L222.21,282.18 L223.38,282.05 L224.39,281.56 L224.71,280.05 L225.88,278.19 L225.60,276.81 L225.90,275.51 L226.68,274.56 L226.89,273.26 L227.70,272.53 L228.12,271.10 L228.43,268.86 L228.97,267.40 L228.63,265.92 L229.82,265.52 L229.72,263.39 L230.13,261.93 L230.93,260.53 L230.46,259.60 L231.55,257.32 L232.42,256.77 L232.10,255.32 L233.41,253.73 L233.10,252.28 L233.81,251.15 L234.61,249.94 L234.23,247.78 L235.87,246.73 L235.78,245.20 L235.71,244.10 L236.38,242.09 L236.12,240.37 L237.61,239.74 L236.52,237.80 L237.55,236.61 L237.64,235.69 L237.90,233.89 L239.13,232.63 L238.67,230.90 L238.81,229.83 L239.74,228.05 L239.34,226.82 L239.61,226.04 L240.18,223.92 L240.12,223.17 L240.12,221.55 L240.17,219.51 L240.52,218.75 L240.95,216.62 L241.08,215.19 L242.49,214.26 L243.02,213.21 L242.65,211.87 L242.11,210.57 L242.92,208.41 L243.68,207.87 L243.31,205.68 L244.36,205.14 L244.13,204.09 L243.43,201.71 L243.81,200.36 L245.01,199.76 L244.24,197.90 L244.55,197.12 L245.58,196.24 L245.24,194.94 L245.56,192.94 L245.44,191.45 L246.86,191.04 L246.60,188.77 L245.90,187.43 L246.38,186.82 L246.08,185.26 L247.33,183.37 L247.11,182.96 L247.54,181.25 L248.25,180.12 L247.54,178.49 L248.78,177.66 L248.95,175.92 L247.86,174.09 L248.49,173.31 L248.06,172.05 L249.60,170.33 L248.50,169.28 L249.40,167.75 L249.88,166.43 L249.83,165.32 L251.01,163.92 L250.51,161.84 L250.18,160.44 L251.22,159.74 L251.11,158.43 L251.57,156.93 L250.48,155.67 L250.48,154.16 L250.39,153.12 L251.08,151.06 L251.91,149.51 L252.15,148.96 L251.08,147.62 L252.02,146.45 L252.28,144.55 L253.09,142.81 L253.06,141.49 L252.46,140.16 L253.69,139.20 L253.68,137.64 L253.92,136.76 L253.09,135.23 L254.37,133.57 L254.49,132.27 L254.23,131.64 L255.42,130.36 L254.78,128.48 L255.64,127.33 L255.28,126.08 L255.41,124.80 L255.75,122.45 L256.44,121.11 L256.55,119.63 L257.30,118.82 L257.10,116.97 L257.15,115.96 L256.73,115.17 L256.59,113.47 L256.91,112.61 L258.48,110.36 L257.99,109.56 L258.64,108.57 L258.24,107.50 L258.22,105.29 L259.51,103.99 L258.71,103.14 L259.20,101.47 L260.43,100.54 L260.43,99.00 L260.89,97.68 L261.11,96.83 L261.45,95.71 L261.12,94.14 L261.73,92.73 L260.70,91.98 L262.10,90.41 L262.29,88.55 L262.11,87.88 L263.21,86.66 L262.19,85.04 L263.12,83.38 L262.77,81.73 L263.56,80.79 L263.79,79.32 L264.76,78.40 L265.35,76.42 L266.33,75.30 L266.96,74.60 L266.44,72.86 L268.27,71.33 L268.32,69.93 L268.75,68.73 L269.68,67.62 L270.74,66.55 L271.70,65.43 L272.90,65.05 L274.30,64.54 L275.66,64.13 L276.94,63.92 L278.29,63.77 L279.64,63.57 L280.96,63.22 L282.41,63.06 L284.20,62.84 L286.00,62.70" stroke="#0000d8"/>
</g>
<path d="M65.10,283.6v-3M65.10,48.0v3M74.17,283.6v-3M74.17,48.0v3M80.61,283.6v-3M80.61,48.0v3M85.60,283.6v-3M85.60,48.0v3M89.67,283.6v-3M89.67,48.0v3M93.12,283.6v-3M93.12,48.0v3M96.11,283.6v-3M96.11,48.0v3M98.74,283.6v-3M98.74,48.0v3M101.10,283.6v-5M101.10,48.0v5M116.60,283.6v-3M116.60,48.0v3M125.67,283.6v-3M125.67,48.0v3M132.11,283.6v-3M132.11,48.0v3M137.10,283.6v-3M137.10,48.0v3M141.17,283.6v-3M141.17,48.0v3M144.62,283.6v-3M144.62,48.0v3M147.61,283.6v-3M147.61,48.0v3M150.24,283.6v-3M150.24,48.0v3M152.60,283.6v-5M152.60,48.0v5M168.10,283.6v-3M168.10,48.0v3M177.17,283.6v-3M177.17,48.0v3M183.61,283.6v-3M183.61,48.0v3M188.60,283.6v-3M188.60,48.0v3M192.67,283.6v-3M192.67,48.0v3M196.12,283.6v-3M196.12,48.0v3M199.11,283.6v-3M199.11,48.0v3M201.74,283.6v-3M201.74,48.0v3M204.10,283.6v-5M204.10,48.0v5M219.60,283.6v-3M219.60,48.0v3M228.67,283.6v-3M228.67,48.0v3M235.11,283.6v-3M235.11,48.0v3M240.10,283.6v-3M240.10,48.0v3M244.17,283.6v-3M244.17,48.0v3M247.62,283.6v-3M247.62,48.0v3M250.61,283.6v-3M250.61,48.0v3M253.24,283.6v-3M253.24,48.0v3M255.60,283.6v-5M255.60,48.0v5M271.10,283.6v-3M271.10,48.0v3M280.17,283.6v-3M280.17,48.0v3M49.6,272.40h3M286.4,272.40h-3M49.6,261.19h3M286.4,261.19h-3M49.6,249.99h3M286.4,249.99h-3M49.6,238.78h5M286.4,238.78h-5M49.6,227.58h3M286.4,227.58h-3M49.6,216.37h3M286.4,216.37h-3M49.6,205.17h3M286.4,205.17h-3M49.6,193.96h5M286.4,193.96h-5M49.6,182.76h3M286.4,182.76h-3M49.6,171.55h3M286.4,171.55h-3M49.6,160.35h3M286.4,160.35h-3M49.6,149.14h5M286.4,149.14h-5M49.6,137.94h3M286.4,137.94h-3M49.6,126.73h3M286.4,126.73h-3M49.6,115.53h3M286.4,115.53h-3M49.6,104.32h5M286.4,104.32h-5M49.6,93.12h3M286.4,93.12h-3M49.6,81.91h3M286.4,81.91h-3M49.6,70.71h3M286.4,70.71h-3M49.6,59.50h5M286.4,59.50h-5" stroke="#505050" stroke-width="1.1" fill="none"/>
<rect x="288.5" y="110.5" width="79.0" height="152.5" fill="#fff"/>
<path d="M288.5,110.5H367.5V263H288.5" fill="none" stroke="#555" stroke-width="1"/>
<path d="M288.7,110.5V263" fill="none" stroke="#999" stroke-width="0.9"/>
<line x1="293" y1="121.50" x2="316.7" y2="121.50" stroke="#000000" stroke-width="1.2"/>
<text x="318.40" y="126.30" font-family="Liberation Sans, sans-serif" font-size="13" fill="#000000" stroke="#000000" stroke-width="0.3">N=4</text>
<line x1="293" y1="137.88" x2="316.7" y2="137.88" stroke="#e00000" stroke-width="1.2"/>
<text x="318.40" y="142.70" font-family="Liberation Sans, sans-serif" font-size="13" fill="#e00000" stroke="#e00000" stroke-width="0.3">N=8</text>
<line x1="293" y1="154.26" x2="316.7" y2="154.26" stroke="#1414e0" stroke-width="1.2"/>
<text x="318.40" y="159.10" font-family="Liberation Sans, sans-serif" font-size="13" fill="#1414e0" stroke="#1414e0" stroke-width="0.3">N=16</text>
<line x1="293" y1="170.64" x2="316.7" y2="170.64" stroke="#86701c" stroke-width="1.2"/>
<text x="318.40" y="175.50" font-family="Liberation Sans, sans-serif" font-size="13" fill="#86701c" stroke="#86701c" stroke-width="0.3">N=32</text>
<line x1="293" y1="187.02" x2="316.7" y2="187.02" stroke="#00c0f2" stroke-width="1.2"/>
<text x="318.40" y="191.90" font-family="Liberation Sans, sans-serif" font-size="13" fill="#00c0f2" stroke="#00c0f2" stroke-width="0.3">N=64</text>
<line x1="293" y1="203.40" x2="316.7" y2="203.40" stroke="#bb8ee0" stroke-width="1.2"/>
<text x="318.40" y="208.30" font-family="Liberation Sans, sans-serif" font-size="13" fill="#bb8ee0" stroke="#bb8ee0" stroke-width="0.3">N=128</text>
<line x1="293" y1="219.78" x2="316.7" y2="219.78" stroke="#127020" stroke-width="1.2"/>
<text x="318.40" y="224.70" font-family="Liberation Sans, sans-serif" font-size="13" fill="#127020" stroke="#127020" stroke-width="0.3">N=256</text>
<line x1="293" y1="236.16" x2="316.7" y2="236.16" stroke="#f87018" stroke-width="1.2"/>
<text x="318.40" y="241.10" font-family="Liberation Sans, sans-serif" font-size="13" fill="#f87018" stroke="#f87018" stroke-width="0.3">N=512</text>
<line x1="293" y1="252.54" x2="316.7" y2="252.54" stroke="#0000d8" stroke-width="1.2"/>
<text x="318.40" y="257.50" font-family="Liberation Sans, sans-serif" font-size="13" fill="#0000d8" stroke="#0000d8" stroke-width="0.3">N=1024</text>
<text transform="translate(43.00,64.60) scale(1,1.06)" font-family="Liberation Sans, sans-serif" font-weight="bold" font-size="15.5" text-anchor="end" stroke="#000" stroke-width="0.3">1</text>
<text transform="translate(43.00,109.42) scale(1,1.06)" font-family="Liberation Sans, sans-serif" font-weight="bold" font-size="15.5" text-anchor="end" stroke="#000" stroke-width="0.3">0.8</text>
<text transform="translate(43.00,154.24) scale(1,1.06)" font-family="Liberation Sans, sans-serif" font-weight="bold" font-size="15.5" text-anchor="end" stroke="#000" stroke-width="0.3">0.6</text>
<text transform="translate(43.00,199.06) scale(1,1.06)" font-family="Liberation Sans, sans-serif" font-weight="bold" font-size="15.5" text-anchor="end" stroke="#000" stroke-width="0.3">0.4</text>
<text transform="translate(43.00,243.88) scale(1,1.06)" font-family="Liberation Sans, sans-serif" font-weight="bold" font-size="15.5" text-anchor="end" stroke="#000" stroke-width="0.3">0.2</text>
<text transform="translate(43.00,288.70) scale(1,1.06)" font-family="Liberation Sans, sans-serif" font-weight="bold" font-size="15.5" text-anchor="end" stroke="#000" stroke-width="0.3">0</text>
<text transform="translate(50.00,305.30) scale(1,1.06)" font-family="Liberation Sans, sans-serif" font-weight="bold" font-size="15.5" text-anchor="middle" stroke="#000" stroke-width="0.3">10<tspan font-size="9.5" dy="-8.40">0</tspan></text>
<text transform="translate(101.50,305.30) scale(1,1.06)" font-family="Liberation Sans, sans-serif" font-weight="bold" font-size="15.5" text-anchor="middle" stroke="#000" stroke-width="0.3">10<tspan font-size="9.5" dy="-8.40">1</tspan></text>
<text transform="translate(153.00,305.30) scale(1,1.06)" font-family="Liberation Sans, sans-serif" font-weight="bold" font-size="15.5" text-anchor="middle" stroke="#000" stroke-width="0.3">10<tspan font-size="9.5" dy="-8.40">2</tspan></text>
<text transform="translate(204.50,305.30) scale(1,1.06)" font-family="Liberation Sans, sans-serif" font-weight="bold" font-size="15.5" text-anchor="middle" stroke="#000" stroke-width="0.3">10<tspan font-size="9.5" dy="-8.40">3</tspan></text>
<text transform="translate(256.00,305.30) scale(1,1.06)" font-family="Liberation Sans, sans-serif" font-weight="bold" font-size="15.5" text-anchor="middle" stroke="#000" stroke-width="0.3">10<tspan font-size="9.5" dy="-8.40">4</tspan></text>
<text x="149" y="322.7" font-family="Liberation Sans, sans-serif" font-weight="bold" font-size="18" stroke="#000" stroke-width="0.3">Play</text>
<text transform="translate(17.3,167.0) rotate(-90)" font-family="Liberation Sans, sans-serif" font-weight="bold" font-size="18.5" text-anchor="middle" stroke="#000" stroke-width="0.3">Correct decision rate</text>
<text x="1" y="16" font-family="Liberation Sans, sans-serif" font-weight="bold" font-size="20" stroke="#000" stroke-width="0.3">(a)</text>
<text x="370.6" y="16" font-family="Liberation Sans, sans-serif" font-weight="bold" font-size="20" stroke="#000" stroke-width="0.3">(b)</text>
<path d="M453.78,282.5v-3M453.78,47.6v3M464.17,282.5v-3M464.17,47.6v3M471.55,282.5v-3M471.55,47.6v3M477.27,282.5v-3M477.27,47.6v3M481.95,282.5v-3M481.95,47.6v3M485.90,282.5v-3M485.90,47.6v3M489.33,282.5v-3M489.33,47.6v3M492.35,282.5v-3M492.35,47.6v3M495.05,282.5v-5M495.05,47.6v5M495.05,282.5v-5M495.05,47.6v5M512.83,282.5v-3M512.83,47.6v3M523.22,282.5v-3M523.22,47.6v3M530.60,282.5v-3M530.60,47.6v3M536.32,282.5v-3M536.32,47.6v3M541.00,282.5v-3M541.00,47.6v3M544.95,282.5v-3M544.95,47.6v3M548.38,282.5v-3M548.38,47.6v3M551.40,282.5v-3M551.40,47.6v3M554.10,282.5v-5M554.10,47.6v5M554.10,282.5v-5M554.10,47.6v5M571.88,282.5v-3M571.88,47.6v3M582.27,282.5v-3M582.27,47.6v3M589.65,282.5v-3M589.65,47.6v3M595.37,282.5v-3M595.37,47.6v3M600.05,282.5v-3M600.05,47.6v3M604.00,282.5v-3M604.00,47.6v3M607.43,282.5v-3M607.43,47.6v3M610.45,282.5v-3M610.45,47.6v3M613.15,282.5v-5M613.15,47.6v5M613.15,282.5v-5M613.15,47.6v5M630.93,282.5v-3M630.93,47.6v3M641.32,282.5v-3M641.32,47.6v3M648.70,282.5v-3M648.70,47.6v3M654.42,282.5v-3M654.42,47.6v3M659.10,282.5v-3M659.10,47.6v3M663.05,282.5v-3M663.05,47.6v3M666.48,282.5v-3M666.48,47.6v3M669.50,282.5v-3M669.50,47.6v3M436.0,264.82h3M672.5,264.82h-3M436.0,254.48h3M672.5,254.48h-3M436.0,247.14h3M672.5,247.14h-3M436.0,241.45h3M672.5,241.45h-3M436.0,236.80h3M672.5,236.80h-3M436.0,232.87h3M672.5,232.87h-3M436.0,229.47h3M672.5,229.47h-3M436.0,226.46h3M672.5,226.46h-3M436.0,223.78h5M672.5,223.78h-5M436.0,223.78h5M672.5,223.78h-5M436.0,206.10h3M672.5,206.10h-3M436.0,195.76h3M672.5,195.76h-3M436.0,188.42h3M672.5,188.42h-3M436.0,182.73h3M672.5,182.73h-3M436.0,178.08h3M672.5,178.08h-3M436.0,174.15h3M672.5,174.15h-3M436.0,170.74h3M672.5,170.74h-3M436.0,167.74h3M672.5,167.74h-3M436.0,165.05h5M672.5,165.05h-5M436.0,165.05h5M672.5,165.05h-5M436.0,147.37h3M672.5,147.37h-3M436.0,137.03h3M672.5,137.03h-3M436.0,129.69h3M672.5,129.69h-3M436.0,124.00h3M672.5,124.00h-3M436.0,119.35h3M672.5,119.35h-3M436.0,115.42h3M672.5,115.42h-3M436.0,112.02h3M672.5,112.02h-3M436.0,109.01h3M672.5,109.01h-3M436.0,106.32h5M672.5,106.32h-5M436.0,106.32h5M672.5,106.32h-5M436.0,88.65h3M672.5,88.65h-3M436.0,78.31h3M672.5,78.31h-3M436.0,70.97h3M672.5,70.97h-3M436.0,65.28h3M672.5,65.28h-3M436.0,60.63h3M672.5,60.63h-3M436.0,56.70h3M672.5,56.70h-3M436.0,53.29h3M672.5,53.29h-3M436.0,50.29h3M672.5,50.29h-3" stroke="#505050" stroke-width="1.1" fill="none"/>
<rect x="436.0" y="47.6" width="236.5" height="234.9" fill="none" stroke="#585858" stroke-width="1.25"/>
<polyline points="471.3,225.3 489.2,209.5 507.1,194.1 524.5,176.6 542.8,159.3 560.7,141 578.5,125.9 596.1,104.8 613.9,89.9" fill="none" stroke="#000" stroke-width="1.6"/>
<line x1="473.6" y1="224.3" x2="610.8" y2="92.9" stroke="#e00000" stroke-width="2.6" stroke-linecap="round" stroke-dasharray="1.8 5.0"/>
<circle cx="471.3" cy="225.3" r="2.5" fill="#000"/>
<circle cx="489.2" cy="209.5" r="2.5" fill="#000"/>
<circle cx="507.1" cy="194.1" r="2.5" fill="#000"/>
<circle cx="524.5" cy="176.6" r="2.5" fill="#000"/>
<circle cx="542.8" cy="159.3" r="2.5" fill="#000"/>
<circle cx="560.7" cy="141" r="2.5" fill="#000"/>
<circle cx="578.5" cy="125.9" r="2.5" fill="#000"/>
<circle cx="596.1" cy="104.8" r="2.5" fill="#000"/>
<circle cx="613.9" cy="89.9" r="2.5" fill="#000"/>
<text transform="translate(436.20,303.90) scale(1,1.06)" font-family="Liberation Sans, sans-serif" font-weight="bold" font-size="15.5" text-anchor="middle" stroke="#000" stroke-width="0.3">10<tspan font-size="9.5" dy="-7.92">0</tspan></text>
<text transform="translate(495.25,303.90) scale(1,1.06)" font-family="Liberation Sans, sans-serif" font-weight="bold" font-size="15.5" text-anchor="middle" stroke="#000" stroke-width="0.3">10<tspan font-size="9.5" dy="-7.92">1</tspan></text>
<text transform="translate(554.30,303.90) scale(1,1.06)" font-family="Liberation Sans, sans-serif" font-weight="bold" font-size="15.5" text-anchor="middle" stroke="#000" stroke-width="0.3">10<tspan font-size="9.5" dy="-7.92">2</tspan></text>
<text transform="translate(613.35,303.90) scale(1,1.06)" font-family="Liberation Sans, sans-serif" font-weight="bold" font-size="15.5" text-anchor="middle" stroke="#000" stroke-width="0.3">10<tspan font-size="9.5" dy="-7.92">3</tspan></text>
<text transform="translate(672.40,303.90) scale(1,1.06)" font-family="Liberation Sans, sans-serif" font-weight="bold" font-size="15.5" text-anchor="middle" stroke="#000" stroke-width="0.3">10<tspan font-size="9.5" dy="-7.92">4</tspan></text>
<text transform="translate(430.00,287.50) scale(1,1.06)" font-family="Liberation Sans, sans-serif" font-weight="bold" font-size="15.5" text-anchor="end" stroke="#000" stroke-width="0.3">10<tspan font-size="9.5" dy="-7.55">1</tspan></text>
<text transform="translate(430.00,228.78) scale(1,1.06)" font-family="Liberation Sans, sans-serif" font-weight="bold" font-size="15.5" text-anchor="end" stroke="#000" stroke-width="0.3">10<tspan font-size="9.5" dy="-7.55">2</tspan></text>
<text transform="translate(430.00,170.05) scale(1,1.06)" font-family="Liberation Sans, sans-serif" font-weight="bold" font-size="15.5" text-anchor="end" stroke="#000" stroke-width="0.3">10<tspan font-size="9.5" dy="-7.55">3</tspan></text>
<text transform="translate(430.00,111.32) scale(1,1.06)" font-family="Liberation Sans, sans-serif" font-weight="bold" font-size="15.5" text-anchor="end" stroke="#000" stroke-width="0.3">10<tspan font-size="9.5" dy="-7.55">4</tspan></text>
<text transform="translate(430.00,52.60) scale(1,1.06)" font-family="Liberation Sans, sans-serif" font-weight="bold" font-size="15.5" text-anchor="end" stroke="#000" stroke-width="0.3">10<tspan font-size="9.5" dy="-7.55">5</tspan></text>
<text x="435.2" y="321.6" font-family="Liberation Sans, sans-serif" font-weight="bold" font-size="18" stroke="#000" stroke-width="0.3">Number of slot machines <tspan font-style="italic" dx="6">N</tspan></text>
<text transform="translate(391.2,170.0) rotate(-90)" font-family="Liberation Sans, sans-serif" font-weight="bold" font-size="18.25" text-anchor="middle" stroke="#000" stroke-width="0.3">Number of plays for CDR = 0.95</text>
<text x="532" y="217.8" font-family="Liberation Sans, sans-serif" font-weight="bold" font-size="18.5" fill="#dc0000" stroke="#dc0000" stroke-width="0.3"><tspan font-style="italic">y</tspan> <tspan dx="0.5">=</tspan> <tspan dx="-0.3">23.4</tspan> <tspan font-style="italic" dx="2">N</tspan><tspan font-size="12" dx="4.3" dy="-9.8">0.97</tspan></text>
</svg>
</body></html>
